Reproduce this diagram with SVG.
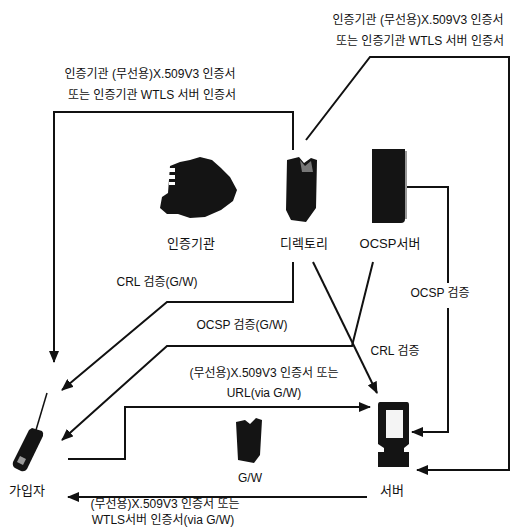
<svg xmlns="http://www.w3.org/2000/svg" width="513" height="531" viewBox="0 0 513 531">
  <style>
    text { font-family: "Liberation Sans", "Noto Sans CJK KR", sans-serif; font-size: 12px; fill: #111; text-anchor: middle; }
    .name { font-size: 13px; }
    .ln { fill: none; stroke: #111; stroke-width: 2; }
    .arr { fill: none; stroke: #111; stroke-width: 2; marker-end: url(#ah); }
    .ico { fill: #141414; }
  </style>
  <defs>
    <marker id="ah" markerUnits="userSpaceOnUse" markerWidth="12" markerHeight="10" refX="11" refY="5" orient="auto">
      <path d="M0,0 L12,5 L0,10 Z" fill="#111"/>
    </marker>
  </defs>
  <rect width="513" height="531" fill="#fff"/>

  <!-- connectors -->
  <g id="connectors">
    <!-- certificate from directory to subscriber -->
    <path class="arr" d="M293,150 V112 H54 V362"/>
    <!-- certificate from directory to server -->
    <path class="arr" d="M306,140 L370,57 H509 V470 H417"/>
    <!-- CRL check via G/W -->
    <path class="arr" d="M293,262 V302 H167 L62,390"/>
    <!-- OCSP check via G/W -->
    <path class="arr" d="M373,262 L352,346 H167 L62,440"/>
    <!-- CRL check (server) -->
    <path class="arr" d="M313,262 L377,393"/>
    <!-- OCSP check (server) -->
    <path class="ln" d="M407,187 H448 V283"/>
    <path class="arr" d="M448,308 V432 H412"/>
    <!-- request from subscriber to server -->
    <path class="arr" d="M68,459 H125 V407 H370"/>
    <!-- response from server to subscriber -->
    <path class="arr" d="M367,497 H68"/>
  </g>

  <!-- labels on connectors -->
  <g id="labels">
    <text x="150" y="78">인증기관 (무선용)X.509V3 인증서</text>
    <text x="152" y="99">또는 인증기관 WTLS 서버 인증서</text>
    <text x="418" y="24">인증기관 (무선용)X.509V3 인증서</text>
    <text x="420" y="45">또는 인증기관 WTLS 서버 인증서</text>
    <text x="157" y="286">CRL 검증(G/W)</text>
    <text x="242" y="329">OCSP 검증(G/W)</text>
    <text x="440" y="297">OCSP 검증</text>
    <text x="395" y="355">CRL 검증</text>
    <text x="264" y="377">(무선용)X.509V3 인증서 또는</text>
    <text x="264" y="397">URL(via G/W)</text>
    <text x="165" y="508">(무선용)X.509V3 인증서 또는</text>
    <text x="163" y="524">WTLS서버 인증서(via G/W)</text>
  </g>

  <!-- certificate authority -->
  <g id="ca">
    <path class="ico" d="M170,166 L180,162 L190,160 L200,157 L212,160 L221,168 L230,177 L237,190 L233,201 L221,210 L205,217 L190,218 L178,214 L167,214 L160,208 L162,197 L168,193 Z"/>
    <rect x="169" y="168" width="6" height="4" fill="#fff"/>
    <rect x="169" y="175" width="6" height="4" fill="#fff"/>
    <rect x="169" y="182" width="6" height="3" fill="#fff"/>
    <text class="name" x="191" y="248">인증기관</text>
  </g>

  <!-- directory -->
  <g id="directory">
    <path class="ico" d="M287,160 L299,157 L304,163 L311,158 L317,160 L316,208 L306,222 L291,220 L286,210 Z"/>
    <path d="M300,160 L305,166 L311,161 L313,172 L302,172 Z" fill="#777"/>
    <text class="name" x="304" y="248">디렉토리</text>
  </g>

  <!-- OCSP server -->
  <g id="ocsp">
    <path class="ico" d="M372,149 H405 V219 Q405,223 401,223 H372 Z"/>
    <rect x="405" y="151" width="2" height="68" fill="#999"/>
    <text class="name" x="390" y="248">OCSP서버</text>
  </g>

  <!-- gateway -->
  <g id="gateway">
    <path class="ico" d="M236,422 L245,420 L250,424 L256,418 L262,420 L260,455 L254,463 L238,460 Z"/>
    <text x="250" y="482">G/W</text>
  </g>

  <!-- server -->
  <g id="server">
    <path class="ico" d="M380,402 H407 Q409,402 409,405 V444 L404,448 V452 H409 V467 H378 V452 H384 V448 L378,444 V405 Q378,402 380,402 Z"/>
    <rect x="386" y="410" width="17" height="28" fill="#f4f4f4"/>
    <text class="name" x="392" y="495">서버</text>
  </g>

  <!-- subscriber -->
  <g id="subscriber">
    <line x1="47" y1="393" x2="36" y2="430" stroke="#111" stroke-width="1.5"/>
    <path class="ico" d="M32,428 L42,431 Q44,433 43,436 L27,469 Q25,472 21,471 L15,468 Q12,466 13,462 L29,430 Z"/>
    <path d="M20,456 L26,459 L23,465 L17,462 Z" fill="#999"/>
    <text class="name" x="27" y="495">가입자</text>
  </g>
</svg>
